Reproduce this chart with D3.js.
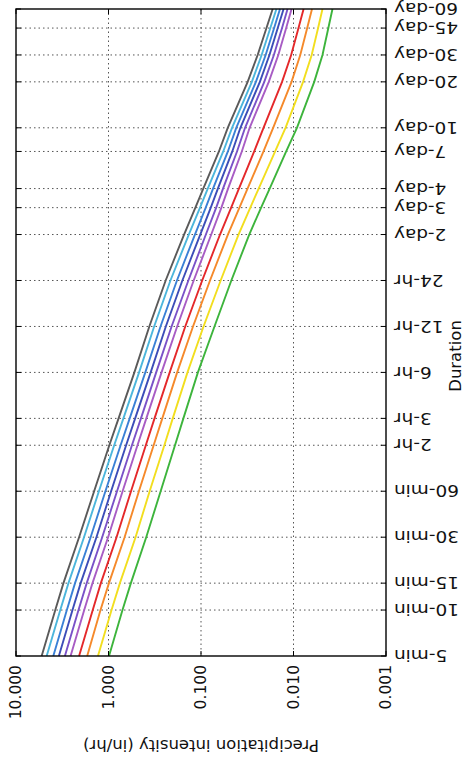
<!DOCTYPE html>
<html><head><meta charset="utf-8">
<script src="https://cdn.jsdelivr.net/npm/d3@7"></script>
<style>html,body{margin:0;padding:0;background:#fff}svg{display:block}</style>
</head><body>
<svg id="chart" width="467" height="762"></svg>
<script>
// ---- data ----
const durationLabels = ["5-min","10-min","15-min","30-min","60-min","2-hr","3-hr","6-hr","12-hr","24-hr","2-day","3-day","4-day","7-day","10-day","20-day","30-day","45-day","60-day"];
const durationMinutes = [5,10,15,30,60,120,180,360,720,1440,2880,4320,5760,10080,14400,28800,43200,64800,86400];
const intensityTicks = [10,1,0.1,0.01,0.001];
const intensityTickLabels = ["10.000","1.000","0.100","0.010","0.001"];
const returnPeriods = [1000,500,200,100,50,25,10,5,2,1];

const ari1000 = [5.28,3.76,3.07,2.08,1.43,0.98,0.778,0.525,0.362,0.241,0.1525,0.115,0.0945,0.064,0.0514,0.0313,0.0244,0.0196,0.0168];
const ari500  = [4.66,3.32,2.71,1.84,1.27,0.868,0.690,0.467,0.321,0.214,0.1355,0.1025,0.0845,0.0575,0.0462,0.0282,0.0221,0.0178,0.0153];
const ari200  = [3.95,2.82,2.30,1.56,1.08,0.740,0.590,0.400,0.274,0.182,0.1163,0.0889,0.0741,0.0512,0.0416,0.0255,0.0200,0.0162,0.0140];
const ari100  = [3.44,2.45,2.00,1.35,0.937,0.645,0.515,0.350,0.240,0.159,0.1019,0.0784,0.0657,0.0459,0.0375,0.0231,0.0182,0.0148,0.0128];
const ari50   = [2.96,2.11,1.72,1.17,0.809,0.558,0.446,0.305,0.208,0.137,0.0886,0.0685,0.0578,0.0408,0.0334,0.0207,0.0163,0.0133,0.0116];
const ari25   = [2.57,1.83,1.49,1.01,0.704,0.486,0.390,0.267,0.181,0.120,0.0775,0.0602,0.0510,0.0362,0.0298,0.0185,0.0146,0.0120,0.0105];
const ari10   = [2.08,1.48,1.21,0.818,0.571,0.395,0.318,0.218,0.148,0.0971,0.0623,0.0472,0.0389,0.0266,0.0211,0.0133,0.0106,0.00883,0.00778];
const ari5    = [1.70,1.22,0.989,0.670,0.469,0.325,0.262,0.181,0.122,0.0799,0.0512,0.0384,0.0314,0.0211,0.0166,0.0105,0.00845,0.00711,0.00631];
const ari2    = [1.30,0.927,0.753,0.510,0.359,0.249,0.202,0.140,0.0939,0.0613,0.0393,0.0293,0.0238,0.0158,0.0122,0.00788,0.00636,0.00542,0.00486];
const ari1    = [0.987,0.706,0.573,0.391,0.273,0.191,0.155,0.108,0.0715,0.047,0.0301,0.0224,0.0181,0.012,0.00918,0.00597,0.00486,0.0042,0.00379];

const seriesValues = [ari1000,ari500,ari200,ari100,ari50,ari25,ari10,ari5,ari2,ari1];
const seriesColors = ["#5a5a5a","#4cb6dc","#3a80d6","#3c4db8","#7a52c8","#a85cc4","#e4282a","#f5892a","#f2de1e","#3db43c"];

// ---- chart ----
const L = 16, R = 386, T = 9, B = 656;
const svg = d3.select("#chart");
const x = d3.scaleLog().domain([10, 0.001]).range([L, R]);
const y = d3.scaleLog().domain([5, 86400]).range([B, T]);

const grid = svg.append("g").attr("stroke", "#555").attr("stroke-width", 1)
  .attr("stroke-dasharray", "1.5,3");
grid.selectAll("line.h").data(durationMinutes.slice(1, -1)).join("line")
  .attr("x1", L).attr("x2", R).attr("y1", d => y(d)).attr("y2", d => y(d));
grid.selectAll("line.v").data(intensityTicks.slice(1, -1)).join("line")
  .attr("x1", d => x(d)).attr("x2", d => x(d)).attr("y1", T).attr("y2", B);

const line = d3.line().x(d => x(d[1])).y(d => y(d[0]));
svg.append("g").selectAll("path").data(seriesValues).join("path")
  .attr("d", vals => line(vals.map((v, i) => [durationMinutes[i], v])))
  .attr("fill", "none").attr("stroke-width", 1.9)
  .attr("stroke", (d, i) => seriesColors[i]);

// ticks (inside, all four sides)
const tk = svg.append("g").attr("stroke", "#000").attr("stroke-width", 1);
durationMinutes.forEach(d => {
  tk.append("line").attr("x1", R).attr("x2", R - 5).attr("y1", y(d)).attr("y2", y(d));
  tk.append("line").attr("x1", L).attr("x2", L + 5).attr("y1", y(d)).attr("y2", y(d));
});
intensityTicks.forEach(d => {
  tk.append("line").attr("x1", x(d)).attr("x2", x(d)).attr("y1", B).attr("y2", B - 5);
  tk.append("line").attr("x1", x(d)).attr("x2", x(d)).attr("y1", T).attr("y2", T + 5);
});

svg.append("rect").attr("x", L).attr("y", T).attr("width", R - L).attr("height", B - T)
  .attr("fill", "none").attr("stroke", "#000").attr("stroke-width", 1.4);

const font = "DejaVu Sans";
// intensity tick labels
svg.append("g").selectAll("text").data(intensityTicks).join("text")
  .attr("transform", d => `translate(${x(d)},${B + 9}) rotate(-90)`)
  .attr("text-anchor", "end").attr("dy", "0.35em")
  .attr("font-family", font).attr("font-size", 15.5).attr("fill", "#111")
  .text((d, i) => intensityTickLabels[i]);

// duration tick labels
svg.append("g").selectAll("text").data(durationMinutes).join("text")
  .attr("transform", d => `translate(${R + 8},${y(d)}) rotate(180) scale(1.12,1)`)
  .attr("text-anchor", "end").attr("dy", "0.35em")
  .attr("font-family", font).attr("font-size", 16.5).attr("fill", "#111")
  .text((d, i) => durationLabels[i]);

// axis titles
svg.append("text").attr("transform", `translate(${(L + R) / 2},740) rotate(180)`)
  .attr("text-anchor", "middle").attr("font-family", font).attr("font-size", 16.5).attr("fill", "#111")
  .text("Precipitation intensity (in/hr)");
svg.append("text").attr("transform", `translate(461,356) rotate(-90)`)
  .attr("text-anchor", "middle").attr("font-family", font).attr("font-size", 16.5).attr("fill", "#111")
  .text("Duration");
</script>
</body></html>
